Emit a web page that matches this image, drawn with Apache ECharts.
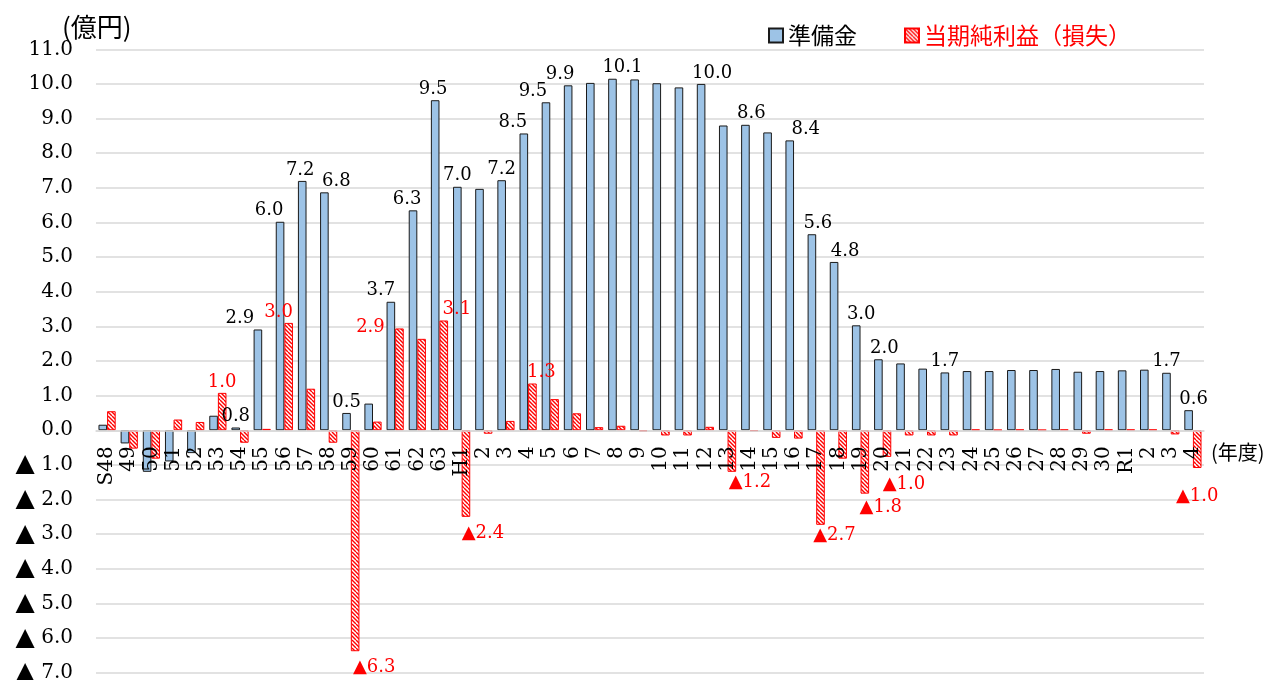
<!DOCTYPE html>
<html>
<head>
<meta charset="utf-8">
<script src="https://cdn.jsdelivr.net/npm/echarts@6/dist/echarts.min.js"></script>
<style>
html,body{margin:0;padding:0;background:#fff;}
#c{width:1270px;height:680px;}
</style>
</head>
<body>
<div id="c"></div>
<script>
// ---- data ----
const categories = ['S48','49','50','51','52','53','54','55','56','57','58','59','60','61','62','63',
  'H1','2','3','4','5','6','7','8','9','10','11','12','13','14','15','16','17','18','19','20',
  '21','22','23','24','25','26','27','28','29','30','R1','2','3','4'];

// 準備金 (億円)
const reserve = [0.16,-0.38,-1.2,-0.9,-0.66,0.42,0.08,2.91,6.02,7.2,6.87,0.5,0.77,3.71,6.35,9.53,
  7.03,6.97,7.22,8.57,9.47,9.96,10.03,10.15,10.13,10.02,9.9,10.0,8.8,8.82,8.6,8.37,5.66,4.86,3.03,2.05,
  1.93,1.78,1.67,1.71,1.71,1.74,1.74,1.77,1.69,1.71,1.73,1.75,1.66,0.58];

// 当期純利益（損失）(億円)
const profit = [0.55,-0.53,-0.82,0.31,0.24,1.08,-0.36,0.04,3.1,1.2,-0.36,-6.38,0.25,2.94,2.64,3.17,
  -2.5,-0.1,0.27,1.35,0.9,0.49,0.09,0.13,-0.03,-0.15,-0.15,0.1,-1.2,-0.02,-0.22,-0.24,-2.73,-0.82,-1.83,-0.77,
  -0.15,-0.15,-0.15,0.02,0.01,0.02,0.01,0.02,-0.1,0.02,0.02,0.02,-0.12,-1.09];

// data label texts ('' = no label)
const reserveLabels = ['','','','','','','0.8','2.9','6.0','7.2','6.8','0.5','','3.7','6.3','9.5',
  '7.0','','7.2','8.5','9.5','9.9','','10.1','','','','10.0','','8.6','','8.4','5.6','4.8','3.0','2.0',
  '','','1.7','','','','','','','','','','1.7','0.6'];
const profitLabels = ['','','','','','1.0','','','3.0','','','▲6.3','','2.9','','3.1',
  '▲2.4','','','1.3','','','','','','','','','▲1.2','','','','▲2.7','','▲1.8','▲1.0',
  '','','','','','','','','','','','','','▲1.0'];

// y-axis ticks
const yMin = -7, yMax = 11, yStep = 1;

// ---- layout ----
const gridTop = 49.3, gridBottom = 7.3, chartH = 680;
const plotH = chartH - gridTop - gridBottom;
// x-axis drawn at the value 0 line
const zeroOffset = -(plotH * (0 - yMin) / (yMax - yMin));

// ---- label placement tweaks (pixels), keyed by category index ----
const reserveLabelShift = {7:[-18,0],8:[-11,0],9:[-2,0],10:[12,0],13:[-10,0],14:[-6,0],15:[-2,0],
  19:[-11,0],20:[-13,0],21:[-8,0],23:[10,0],27:[11,0],29:[6,0],31:[16,0],32:[6,0],33:[11,0],34:[5,0],35:[6,0],49:[5,0]};
const profitLabelShift = {8:[-10,0],13:[-29,10],15:[13,0],19:[9,0],11:[19,5],16:[17,5],28:[18,0],
  32:[14,0],34:[16,3],35:[17,16],49:[0,17]};

// ---- hatch pattern ----
const tile = document.createElement('canvas');
tile.width = 8; tile.height = 8;
(function(){
  const g = tile.getContext('2d');
  g.fillStyle = '#ffffff'; g.fillRect(0,0,8,8);
  g.strokeStyle = '#ff0000'; g.lineWidth = 1.4;
  for (let k = -8; k <= 8; k += 4) { g.beginPath(); g.moveTo(k,0); g.lineTo(k+8,8); g.stroke(); }
})();
const hatch = {image: tile, repeat: 'repeat'};

const serif = '"DejaVu Serif", "Liberation Serif", serif';
const cjk = '"Noto Sans CJK JP", sans-serif';

const reserveData = reserve.map((v,i)=>({
  value: v,
  label: {show: !!reserveLabels[i], formatter: reserveLabels[i], position: v < 0 ? 'bottom' : 'top',
          offset: reserveLabelShift[i] || [0,0]}
}));
const profitData = profit.map((v,i)=>({
  value: v,
  label: {show: !!profitLabels[i], formatter: profitLabels[i], position: v < 0 ? 'bottom' : 'top',
          offset: profitLabelShift[i] || [0,0]}
}));

const chart = echarts.init(document.getElementById('c'));
chart.setOption({
  animation: false,
  backgroundColor: '#ffffff',
  grid: {left: 96, right: 66, top: gridTop, bottom: gridBottom, containLabel: false, outerBoundsMode: 'none'},
  legend: {
    left: 763, top: 19, itemWidth: 14, itemHeight: 14, itemGap: 47, icon: 'rect',
    textStyle: {fontFamily: cjk, fontSize: 23, color: '#000'},
    data: [
      {name: '準備金', textStyle: {color: '#000'}},
      {name: '当期純利益（損失）', textStyle: {color: '#ff0000'}}
    ]
  },
  graphic: [
    {type: 'text', left: 62, top: 14, style: {text: '(億円)', font: '26px ' + cjk, fill: '#000'}},
    {type: 'text', left: 1211, top: 442, style: {text: '(年度)', font: '20px ' + cjk, fill: '#000'}}
  ],
  xAxis: {
    type: 'category', data: categories, position: 'bottom', offset: zeroOffset, z: 3,
    axisLine: {show: true, onZero: false, lineStyle: {color: '#d9d9d9', width: 1.5}},
    axisTick: {show: false},
    axisLabel: {interval: 0, rotate: 90, margin: 16, fontFamily: serif, fontSize: 20, color: '#000'},
    splitLine: {show: false}
  },
  yAxis: {
    type: 'value', min: yMin, max: yMax, interval: yStep,
    axisLine: {show: false}, axisTick: {show: false},
    axisLabel: {margin: 23, fontFamily: serif, fontSize: 20, color: '#000',
      formatter: v => v < 0 ? '{t|▲} ' + (-v).toFixed(1) : v.toFixed(1),
      rich: {t: {fontSize: 25, fontFamily: '"DejaVu Sans", sans-serif', color: '#000'}}},
    splitLine: {lineStyle: {color: '#d9d9d9', width: 1.5}}
  },
  series: [
    {
      name: '準備金', type: 'bar', data: reserveData, barWidth: 8.6, barGap: '0%',
      itemStyle: {color: '#9dc3e6', borderColor: '#1a1a1a', borderWidth: 1},
      label: {distance: 2, fontFamily: serif, fontSize: 18, color: '#000'}
    },
    {
      name: '当期純利益（損失）', type: 'bar', data: profitData, barWidth: 8.6, barGap: '0%',
      itemStyle: {color: hatch, borderColor: '#ff0000', borderWidth: 1},
      label: {distance: 2, fontFamily: serif, fontSize: 18, color: '#ff0000'}
    }
  ]
});
</script>
</body>
</html>
